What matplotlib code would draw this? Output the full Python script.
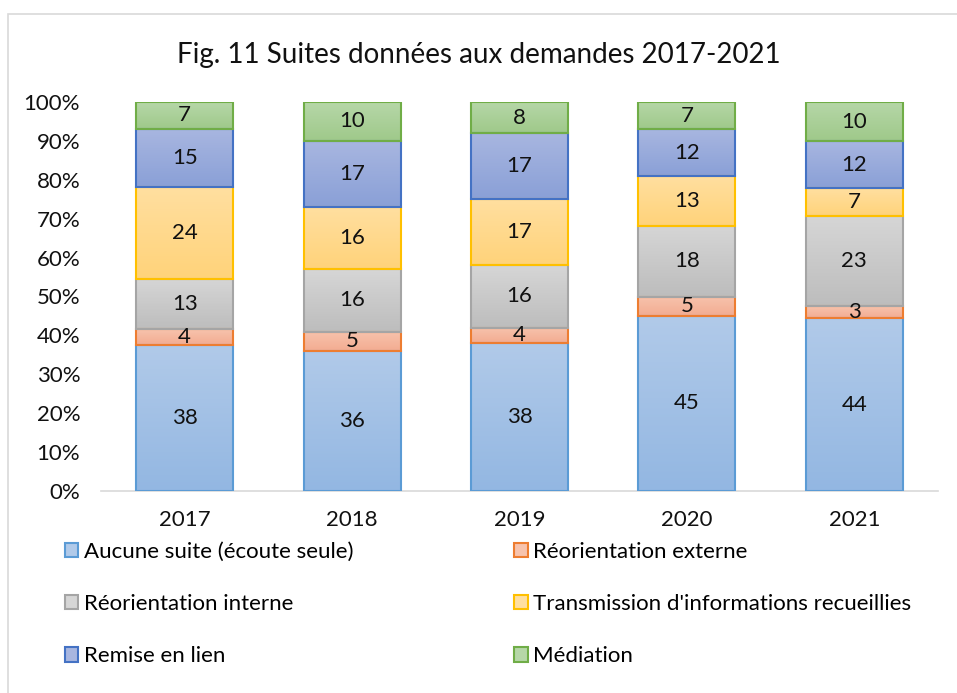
import numpy as np
import matplotlib
matplotlib.use("Agg")
import matplotlib.pyplot as plt
from matplotlib.colors import LinearSegmentedColormap
from matplotlib.patches import Rectangle, Patch

plt.rcParams['font.family'] = ['Lato', 'DejaVu Sans']

years = ["2017", "2018", "2019", "2020", "2021"]
series = ["Aucune suite (écoute seule)", "Réorientation externe", "Réorientation interne",
          "Transmission d'informations recueillies", "Remise en lien", "Médiation"]
aucune = [38, 36, 38, 45, 44]
reor_ext = [4, 5, 4, 5, 3]
reor_int = [13, 16, 16, 18, 23]
transmission = [24, 16, 17, 13, 7]
remise = [15, 17, 17, 12, 12]
mediation = [7, 10, 8, 7, 10]

values = [aucune, reor_ext, reor_int, transmission, remise, mediation]
# (top colour, bottom colour, edge colour)
styles = [("#b1cae9", "#93b7e2", "#5b9bd5"),
          ("#f7c3ad", "#f3ac91", "#ed7d31"),
          ("#d6d6d6", "#bdbdbd", "#a5a5a5"),
          ("#ffdfa0", "#ffd37a", "#ffc000"),
          ("#a8b6e0", "#8aa0d7", "#4472c4"),
          ("#b6d7a8", "#9fc98a", "#70ad47")]

data = np.array(values, dtype=float)
shares = data / data.sum(axis=0)

fig = plt.figure(figsize=(9.57, 6.93), dpi=100)
fig.patches.append(Rectangle((8 / 957, -0.01), 1.0, 1 - 14 / 693 + 0.01, transform=fig.transFigure,
                             fill=False, edgecolor="#d9d9d9", linewidth=1.2))
ax = fig.add_axes([101 / 957, 1 - 491 / 693, (938 - 101) / 957, (491 - 102) / 693])

x = np.arange(len(years))
bottom = np.zeros(len(years))
for i, name in enumerate(series):
    top_c, bot_c, edge_c = styles[i]
    cmap = LinearSegmentedColormap.from_list("g%d" % i, [bot_c, top_c])
    bars = ax.bar(x, shares[i], 0.58, bottom=bottom, facecolor="none",
                  edgecolor=edge_c, linewidth=1.5, zorder=3)
    for j, b in enumerate(bars):
        x0, y0 = b.get_x(), b.get_y()
        w, h = b.get_width(), b.get_height()
        grad = np.linspace(0, 1, 64).reshape(-1, 1)
        im = ax.imshow(grad, cmap=cmap, origin="lower", aspect="auto",
                       extent=(x0, x0 + w, y0, y0 + h), zorder=2)
        im.set_clip_path(b)
        ax.text(x[j], y0 + h / 2, str(values[i][j]), ha="center", va="center",
                fontsize=16, color="#111111", zorder=4)
    bottom += shares[i]

ax.set_xlim(-0.5, len(years) - 0.5)
ax.set_ylim(0, 1)
ax.set_xticks(x)
ax.set_xticklabels(years)
ax.set_yticks(np.arange(0, 1.01, 0.1))
ax.set_yticklabels(["%d%%" % v for v in range(0, 101, 10)])
ax.tick_params(axis="both", length=0, labelsize=16, colors="#111111")
ax.tick_params(axis="x", pad=14)
ax.tick_params(axis="y", pad=15)
for s in ["top", "right", "left"]:
    ax.spines[s].set_visible(False)
ax.spines["bottom"].set_color("#d9d9d9")
ax.spines["bottom"].set_linewidth(1.2)
ax.spines["bottom"].set_zorder(1)

fig.text(0.5, 1 - 55 / 693, "Fig. 11 Suites données aux demandes 2017-2021",
         ha="center", va="center", fontsize=20, color="#111111")

handles = [Patch(facecolor=s[0], edgecolor=s[2], linewidth=1.5) for s in styles]
order = [0, 2, 4, 1, 3, 5]
fig.legend([handles[k] for k in order], [series[k] for k in order], ncol=2,
           loc="upper left", bbox_to_anchor=(56 / 957, 1 - 533 / 693), frameon=False,
           fontsize=16, handlelength=0.6, handleheight=0.6, handletextpad=0.25,
           labelspacing=1.45, columnspacing=7.25, borderaxespad=0)

fig.savefig("out.png", dpi=100)
